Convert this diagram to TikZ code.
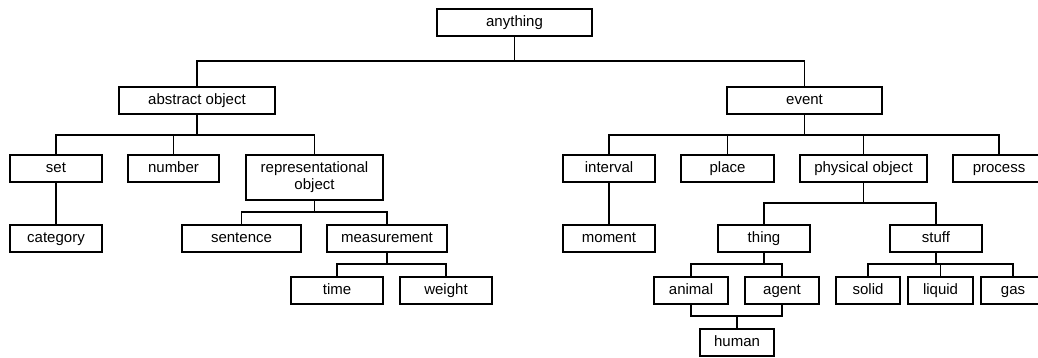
\documentclass[tikz,border=0pt]{standalone}
\usepackage{fontspec}
\setmainfont{Liberation Sans}
\begin{document}
\begin{tikzpicture}[x=1pt,y=-1pt,
  frame/.style={draw, line width=1.1pt, inner sep=0pt,
                font=\fontsize{15}{17}\selectfont},
  box/.style={frame, minimum height=27pt, text height=11pt, text depth=3.5pt},
  tallbox/.style={frame, minimum height=45pt, align=center},
  link/.style={line width=1.1pt}]
\useasboundingbox (0,0) rectangle (1038,357);
\clip (0,0) rectangle (1038,357);

% root
\node[box, minimum width=155pt] (anything) at (514.5,22.5) {anything};

% second level
\node[box, minimum width=156pt] (abstract) at (197,100.5) {abstract object};
\node[box, minimum width=155pt] (event) at (804.5,100.5) {event};

% third level
\node[box, minimum width=92pt] (set) at (56,168.5) {set};
\node[box, minimum width=91pt] (number) at (173.5,168.5) {number};
\node[tallbox, minimum width=137pt] (repr) at (314.5,177.5) {representational\\object};
\node[box, minimum width=92pt] (interval) at (609,168.5) {interval};
\node[box, minimum width=93pt] (place) at (727.5,168.5) {place};
\node[box, minimum width=127pt] (physobj) at (863.5,168.5) {physical object};
\node[box, minimum width=92pt] (process) at (999,168.5) {process};

% fourth level
\node[box, minimum width=92pt] (category) at (56,238.5) {category};
\node[box, minimum width=119pt] (sentence) at (241.5,238.5) {sentence};
\node[box, minimum width=120pt] (measurement) at (387,238.5) {measurement};
\node[box, minimum width=92pt] (moment) at (609,238.5) {moment};
\node[box, minimum width=92pt] (thing) at (764,238.5) {thing};
\node[box, minimum width=92pt] (stuff) at (936,238.5) {stuff};

% fifth level
\node[box, minimum width=92pt] (time) at (337,290.5) {time};
\node[box, minimum width=92pt] (weight) at (446,290.5) {weight};
\node[box, minimum width=74pt] (animal) at (691,290.5) {animal};
\node[box, minimum width=74pt] (agent) at (782,290.5) {agent};
\node[box, minimum width=64pt] (solid) at (868,290.5) {solid};
\node[box, minimum width=65pt] (liquid) at (940.5,290.5) {liquid};
\node[box, minimum width=64pt] (gas) at (1013,290.5) {gas};

% sixth level
\node[box, minimum width=74pt] (human) at (737,342.5) {human};

% levels of the horizontal bars
\coordinate (barA) at (0,61);
\coordinate (barB) at (0,135);
\coordinate (barR) at (0,212);
\coordinate (barP) at (0,203);
\coordinate (barM) at (0,264);
\coordinate (barH) at (0,316);

% elbow connectors
\foreach \p/\c/\b in {anything/abstract/barA, anything/event/barA,
    abstract/set/barB, abstract/number/barB, abstract/repr/barB,
    event/interval/barB, event/place/barB, event/physobj/barB, event/process/barB,
    repr/sentence/barR, repr/measurement/barR,
    measurement/time/barM, measurement/weight/barM,
    physobj/thing/barP, physobj/stuff/barP,
    thing/animal/barM, thing/agent/barM,
    stuff/solid/barM, stuff/liquid/barM, stuff/gas/barM}
  \draw[link] (\p.south) -- (\p.south |- \b) -| (\c.north);

% straight connectors
\draw[link] (set.south) -- (category.north);
\draw[link] (interval.south) -- (moment.north);

% animal and agent join into human
\draw[link] (animal.south) -- (animal.south |- barH) -- (agent.south |- barH) -- (agent.south);
\draw[link] (human.north) -- (human.north |- barH);
\end{tikzpicture}
\end{document}
